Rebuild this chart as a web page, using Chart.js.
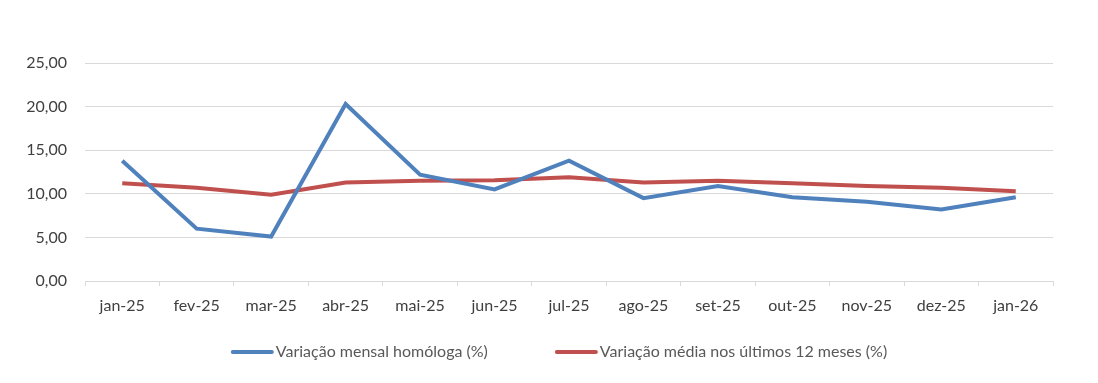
<!DOCTYPE html>
<html>
<head>
<meta charset="utf-8">
<script src="https://cdn.jsdelivr.net/npm/chart.js@4.4.1/dist/chart.umd.min.js"></script>
<style>
html,body{margin:0;padding:0;background:#fff;}
#wrap{width:1098px;height:383px;}
</style>
</head>
<body>
<div id="wrap"><canvas id="c" width="1098" height="383"></canvas></div>
<script>
const categories = ["jan-25","fev-25","mar-25","abr-25","mai-25","jun-25","jul-25","ago-25","set-25","out-25","nov-25","dez-25","jan-26"];
const mensalHomologa = [13.8, 6.0, 5.1, 20.3, 12.2, 10.5, 13.8, 9.5, 10.9, 9.6, 9.1, 8.2, 9.6];
const mediaDozeMeses = [11.2, 10.7, 9.9, 11.3, 11.5, 11.55, 11.9, 11.3, 11.5, 11.2, 10.9, 10.7, 10.3];
const yTicks = [0, 5, 10, 15, 20, 25];
const seriesNames = ["Variação mensal homóloga (%)", "Variação média nos últimos 12 meses (%)"];

const FONT = "Lato, 'Open Sans', sans-serif";

// Bottom legend drawn on the canvas from the chart's own datasets
const bottomLegend = {
  id: 'bottomLegend',
  afterDraw(chart) {
    const ctx = chart.ctx;
    const ca = chart.chartArea;
    const lineW = 43, gapText = 2, gapItem = 67, y = 352;
    ctx.save();
    ctx.font = "16px " + FONT;
    const items = chart.data.datasets.map(d => ({ label: d.label, color: d.borderColor, w: ctx.measureText(d.label).width }));
    let total = 0;
    items.forEach((it, i) => { total += lineW + gapText + it.w + (i < items.length - 1 ? gapItem : 0); });
    let x = (ca.left + ca.right) / 2 - 10 - total / 2;
    items.forEach(it => {
      ctx.strokeStyle = it.color;
      ctx.lineWidth = 4;
      ctx.lineCap = 'round';
      ctx.beginPath();
      ctx.moveTo(x + 2, y);
      ctx.lineTo(x + lineW - 2, y);
      ctx.stroke();
      ctx.fillStyle = '#595959';
      ctx.textBaseline = 'middle';
      ctx.textAlign = 'left';
      ctx.fillText(it.label, x + lineW + gapText, y);
      x += lineW + gapText + it.w + gapItem;
    });
    ctx.restore();
  }
};

new Chart(document.getElementById('c'), {
  type: 'line',
  data: {
    labels: categories,
    datasets: [
      { label: seriesNames[0], data: mensalHomologa, borderColor: '#4f81bd', backgroundColor: '#4f81bd', borderWidth: 4, pointRadius: 0, tension: 0 },
      { label: seriesNames[1], data: mediaDozeMeses, borderColor: '#c0504d', backgroundColor: '#c0504d', borderWidth: 4, pointRadius: 0, tension: 0 }
    ]
  },
  plugins: [bottomLegend],
  options: {
    responsive: false,
    animation: false,
    devicePixelRatio: 1,
    layout: { padding: { left: 0, right: 45, top: 63, bottom: 0 } },
    plugins: {
      tooltip: { enabled: false },
      legend: { display: false }
    },
    scales: {
      x: {
        offset: true,
        afterFit: (s) => { s.height = 102; },
        grid: { offset: true, drawOnChartArea: false, color: '#d9d9d9', tickLength: 5, lineWidth: 1 },
        border: { color: '#d9d9d9', width: 1 },
        ticks: { color: '#404040', padding: 10, maxRotation: 0, font: { family: FONT, size: 16 } }
      },
      y: {
        min: 0, max: 25,
        afterBuildTicks: (s) => { s.ticks = yTicks.map(v => ({ value: v })); },
        afterFit: (s) => { s.width = 85; },
        grid: { color: '#d9d9d9', drawTicks: false, lineWidth: 1 },
        border: { display: false },
        ticks: {
          color: '#404040', padding: 18,
          font: { family: FONT, size: 16 },
          callback: (v) => v.toFixed(2).replace('.', ',')
        }
      }
    }
  }
});
</script>
</body>
</html>
